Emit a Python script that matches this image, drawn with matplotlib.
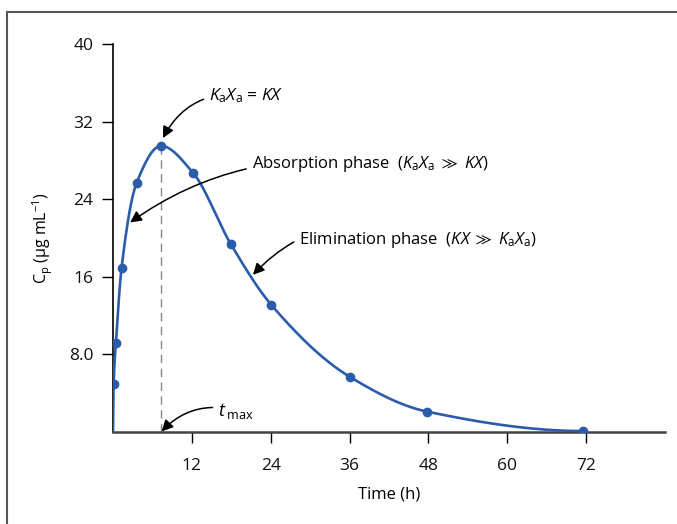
import numpy as np
import matplotlib
matplotlib.use("Agg")
import matplotlib.pyplot as plt
from matplotlib.patches import Rectangle

plt.rcParams['font.family'] = ['Open Sans', 'DejaVu Sans']
plt.rcParams['mathtext.fontset'] = 'custom'
plt.rcParams['mathtext.rm'] = 'Open Sans'
plt.rcParams['mathtext.it'] = 'Open Sans:italic'
plt.rcParams['mathtext.fallback'] = 'stixsans'

# Data
time_h = [0.0, 0.1, 0.45, 1.3, 3.6, 7.3, 12.2, 17.9, 24.1, 36.0, 47.8, 71.5]
conc = [0.0, 5.0, 9.2, 16.9, 25.7, 29.5, 26.7, 19.4, 13.1, 5.7, 2.1, 0.1]
t_max = 7.3
x_ticks = [12, 24, 36, 48, 60, 72]
y_ticks = [8, 16, 24, 32, 40]
y_tick_labels = ["8.0", "16", "24", "32", "40"]


def pchip(x, y, xs):
    x = np.asarray(x, float); y = np.asarray(y, float)
    h = np.diff(x); d = np.diff(y) / h
    n = len(x); m = np.zeros(n)
    for k in range(1, n - 1):
        if d[k - 1] * d[k] > 0:
            w1 = 2 * h[k] + h[k - 1]; w2 = h[k] + 2 * h[k - 1]
            m[k] = (w1 + w2) / (w1 / d[k - 1] + w2 / d[k])
    def endslope(h0, h1, d0, d1):
        s = ((2 * h0 + h1) * d0 - h0 * d1) / (h0 + h1)
        if np.sign(s) != np.sign(d0):
            s = 0
        elif np.sign(d0) != np.sign(d1) and abs(s) > abs(3 * d0):
            s = 3 * d0
        return s
    m[0] = endslope(h[0], h[1], d[0], d[1])
    m[-1] = endslope(h[-1], h[-2], d[-1], d[-2])
    idx = np.clip(np.searchsorted(x, xs) - 1, 0, n - 2)
    hh = h[idx]; t = (xs - x[idx]) / hh
    h00 = 2 * t**3 - 3 * t**2 + 1; h10 = t**3 - 2 * t**2 + t
    h01 = -2 * t**3 + 3 * t**2; h11 = t**3 - t**2
    return h00 * y[idx] + h10 * hh * m[idx] + h01 * y[idx + 1] + h11 * hh * m[idx + 1]


fig = plt.figure(figsize=(6.77, 5.24), dpi=100)
ax = fig.add_axes([113 / 677, 1 - 432 / 524, (665 - 113) / 677, (432 - 44) / 524])

# Outer frame
fig.patches.append(Rectangle((7 / 677, -0.05), 1.2, 1 - 12 / 524 + 0.05,
                             transform=fig.transFigure, fill=False,
                             edgecolor='#555555', linewidth=1.5, zorder=0))

blue = '#2b5cab'
xs = np.linspace(time_h[0], time_h[-1], 800)
ys = pchip(time_h, conc, xs)
ax.plot(xs, ys, color=blue, linewidth=1.9, zorder=3)
ax.plot(time_h[1:], conc[1:], 'o', color=blue, markersize=6, zorder=4)

# t_max dashed line
ax.plot([t_max, t_max], [0, max(conc)], linestyle=(0, (6, 4)), color='#888888',
        linewidth=1.0, zorder=2)

ax.set_xlim(0, 84)
ax.set_ylim(0, 40)
ax.set_xticks(x_ticks)
ax.set_xticklabels([str(v) for v in x_ticks])
ax.set_yticks(y_ticks)
ax.set_yticklabels(y_tick_labels)
ax.tick_params(axis='both', direction='out', length=8, width=1.0, labelsize=12.5,
               color='black', labelcolor='#111111')
ax.tick_params(axis='x', pad=11)
ax.tick_params(axis='y', pad=6)
for s in ['top', 'right']:
    ax.spines[s].set_visible(False)
ax.spines['bottom'].set_color('#444444')
ax.spines['bottom'].set_linewidth(1.8)
ax.spines['left'].set_color('black')
ax.spines['left'].set_linewidth(1.2)

ax.set_xlabel('Time (h)', fontsize=12, labelpad=9)
ax.set_ylabel(r'C$_{\rm p}$ (µg mL$^{-1}$)', fontsize=11.5, labelpad=10)

arw = dict(arrowstyle='-|>', color='black', lw=1.1, mutation_scale=17,
           shrinkA=2, shrinkB=0)
fs = 12
ax.annotate(r'$K_{\rm a}X_{\rm a}$ = $KX$', xy=(7.6, 30.3), xytext=(14.6, 34.7),
            fontsize=12.5, va='center', ha='left',
            arrowprops=dict(arw, connectionstyle='arc3,rad=0.35'))
ax.annotate(r'Absorption phase  ($K_{\rm a}X_{\rm a}$ $\gg$ $KX$)', xy=(2.6, 21.6),
            xytext=(21.1, 27.6), fontsize=fs, va='center', ha='left',
            arrowprops=dict(arw, connectionstyle='arc3,rad=0.2'))
ax.annotate(r'Elimination phase  ($KX$ $\gg$ $K_{\rm a}X_{\rm a}$)', xy=(21.3, 16.2),
            xytext=(28.3, 19.8), fontsize=fs, va='center', ha='left',
            arrowprops=dict(arw, connectionstyle='arc3,rad=0.35'))
ax.annotate(r'$t_{\;\rm max}$', xy=(7.4, 0.05), xytext=(16.0, 2.2),
            fontsize=13, va='center', ha='left',
            arrowprops=dict(arw, connectionstyle='arc3,rad=0.3'))

fig.savefig('out.png', dpi=100)
